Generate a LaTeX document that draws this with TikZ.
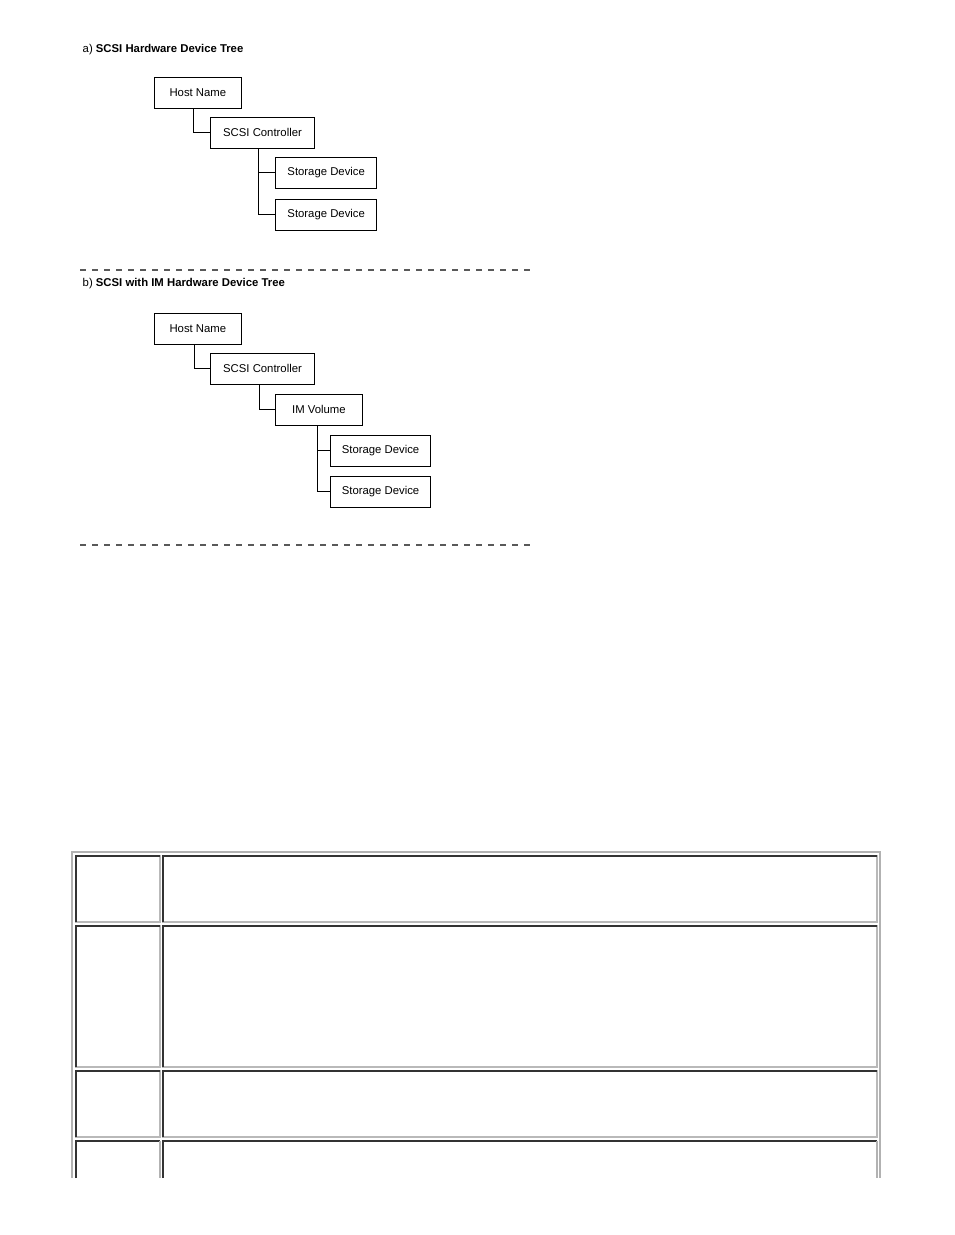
\documentclass[tikz,border=0pt]{standalone}
\usepackage{fontspec}
\setmainfont{Liberation Sans}
\begin{document}
\begin{tikzpicture}[x=0.75pt,y=-0.75pt,font=\fontsize{8.5}{10}\selectfont]

	\tikzset{
		devbox/.style={draw,thick,inner sep=0pt,minimum height=23pt,anchor=north west},
		branch/.style={thick},
		sepline/.style={thick,gray!70!black,dash pattern=on 4.5pt off 4.5pt},
		cell/.style={draw=gray!60,thick},
	}

	\useasboundingbox (0,0) rectangle (954,1235);

	%========================================
	% a) SCSI hardware device tree
	%========================================
	\node[anchor=west] (titleA) at (78,50) {a) \textbf{SCSI Hardware Device Tree}};

	\node[devbox,minimum width=65pt] (hostA) at (154,77) {Host Name};
	\node[devbox,minimum width=78pt] (ctrlA) at (210,117) {SCSI Controller};
	\node[devbox,minimum width=76pt] (stA1) at (275,157) {Storage Device};
	\node[devbox,minimum width=76pt] (stA2) at (275,199) {Storage Device};

	\draw[branch] (hostA.south) ++(-4,0) coordinate (hA) |- (ctrlA.west);
	\draw[branch] (ctrlA.south) ++(-4,0) coordinate (cA) |- (stA1.west);
	\draw[branch] (cA) |- (stA2.west);

	\draw[sepline] (80,270) -- (535,270);

	%========================================
	% b) SCSI with IM hardware device tree
	%========================================
	\node[anchor=west] (titleB) at (78,284) {b) \textbf{SCSI with IM Hardware Device Tree}};

	\node[devbox,minimum width=65pt] (hostB) at (154,313) {Host Name};
	\node[devbox,minimum width=78pt] (ctrlB) at (210,353) {SCSI Controller};
	\node[devbox,minimum width=65pt] (volB) at (275,394) {IM Volume};
	\node[devbox,minimum width=75pt] (stB1) at (330,435) {Storage Device};
	\node[devbox,minimum width=75pt] (stB2) at (330,476) {Storage Device};

	\draw[branch] (hostB.south) ++(-3,0) |- (ctrlB.west);
	\draw[branch] (ctrlB.south) ++(-3,0) |- (volB.west);
	\draw[branch] (volB.south) ++(-1,0) coordinate (vB) |- (stB1.west);
	\draw[branch] (vB) |- (stB2.west);

	\draw[sepline] (80,545) -- (535,545);

	%========================================
	% Table (cut at the page foot)
	%========================================
	\draw[cell] (72,1178) -- (72,852) -- (880,852) -- (880,1178);
	\foreach \ya/\yb in {856/922,926/1067,1071/1137} {
		\draw[cell,draw=gray!55] (76,\ya) rectangle (160,\yb);
		\draw[cell,draw=gray!55] (163,\ya) rectangle (877,\yb);
		\draw[thick,black!80] (76,\yb) |- (160,\ya);
		\draw[thick,black!80] (163,\yb) |- (877,\ya);
	}
	\draw[thick,black!80] (76,1178) |- (160,1141);
	\draw[thick,black!80] (163,1178) |- (877,1141);
	\draw[cell] (160,1141) -- (160,1178);
	\draw[cell] (877,1141) -- (877,1178);

\end{tikzpicture}
\end{document}
